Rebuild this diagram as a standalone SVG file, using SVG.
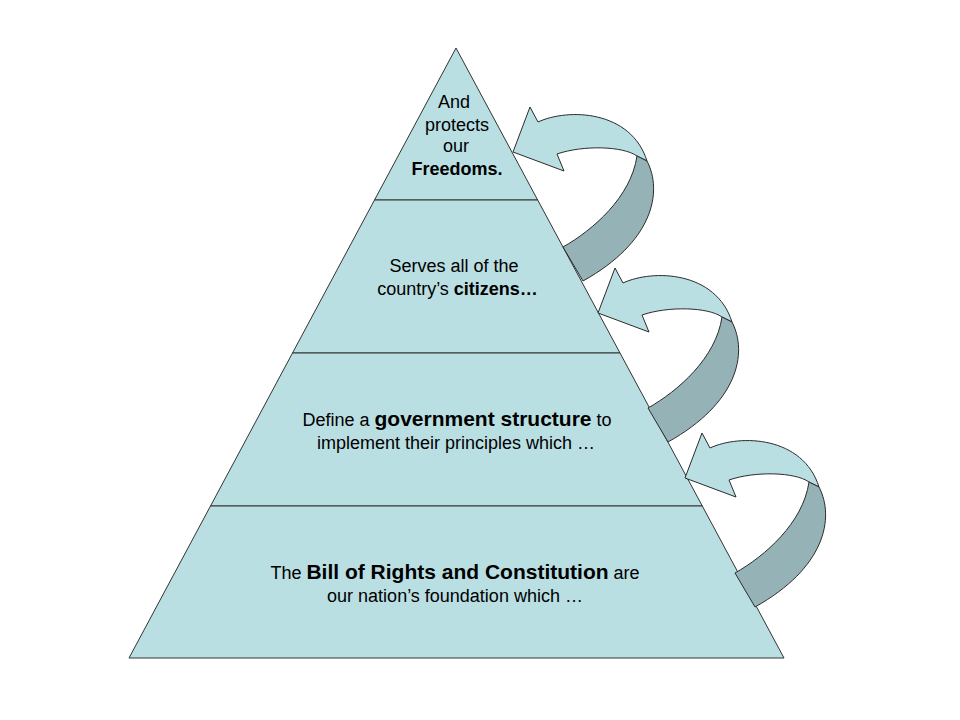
<svg xmlns="http://www.w3.org/2000/svg" xmlns:xlink="http://www.w3.org/1999/xlink" width="960" height="720" viewBox="0 0 960 720">
<style>
.lvl{fill:#B9DFE3;stroke:#333;stroke-width:1}
.light{fill:#B9DFE3;stroke:#2b2b2b;stroke-width:1;stroke-linejoin:miter}
.dark{fill:#95B3B7;stroke:#2b2b2b;stroke-width:1}
text{font-family:"Liberation Sans",Arial,sans-serif;font-size:18px;fill:#000;text-anchor:middle}
.b{font-weight:bold}
.bb{font-weight:bold;font-size:21px}
</style>
<defs>
<g id="curvedArrow">
<path class="light" d="M0,0 L17,-45 L25,-30 C55,-44 118,-42 134,9 L124,4 C110,-6 70,-7 44,2 L51,19 Z"/>
<path class="dark" d="M124,4 L134,9 C150,40 140,90 70,129 L50,95 C80,78 118,45 124,4 Z"/>
</g>
</defs>
<rect width="960" height="720" fill="#fff"/>
<g id="level1">
<polygon class="lvl" points="456,48 374.5,200 537.7,200"/>
<text x="454" y="108">And</text>
<text x="457" y="130.5">protects</text>
<text x="456" y="152">our</text>
<text x="457" y="175" class="b">Freedoms.</text>
</g>
<g id="level2">
<polygon class="lvl" points="374.5,200 537.7,200 620,353 292.5,353"/>
<text x="454" y="272">Serves all of the</text>
<text x="457.5" y="294.5">country’s <tspan class="b">citizens…</tspan></text>
</g>
<g id="level3">
<polygon class="lvl" points="292.5,353 620,353 702.3,506 210.5,506"/>
<text x="457" y="426">Define a <tspan class="bb">government structure</tspan> to</text>
<text x="456" y="449">implement their principles which …</text>
</g>
<g id="level4">
<polygon class="lvl" points="210.5,506 702.3,506 784,658 129,658"/>
<text x="455" y="579">The <tspan class="bb">Bill of Rights and Constitution</tspan> are</text>
<text x="455" y="602">our nation’s foundation which …</text>
</g>
<g id="connectors">
<use xlink:href="#curvedArrow" transform="translate(513,152)"/>
<use xlink:href="#curvedArrow" transform="translate(598,313)"/>
<use xlink:href="#curvedArrow" transform="translate(685,478)"/>
</g>
</svg>
